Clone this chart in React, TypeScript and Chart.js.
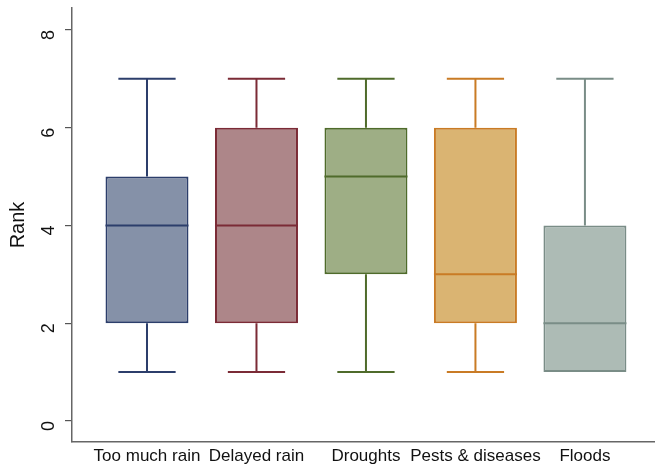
import React, { useEffect, useRef } from 'react';
import Chart from 'chart.js/auto';

const categories = ['Too much rain', 'Delayed rain', 'Droughts', 'Pests & diseases', 'Floods'];
const mins = [1, 1, 1, 1, 1];
const q1s = [2, 2, 3, 2, 1];
const medians = [4, 4, 5, 3, 2];
const q3s = [5, 6, 6, 6, 4];
const maxs = [7, 7, 7, 7, 7];
const yTicks = [0, 2, 4, 6, 8];

const fills = ['#8591a8', '#ad8689', '#9eae85', '#dab472', '#adbbb5'];
const strokes = ['#2c3e6b', '#7b2b36', '#4f6b2b', '#c97b25', '#7a8d87'];

// whiskers and medians drawn on top of the floating bars
const whiskerPlugin = {
  id: 'whiskers',
  afterDatasetsDraw(chart: any) {
    const { ctx } = chart;
    const y = chart.scales.y;
    const meta = chart.getDatasetMeta(0);
    meta.data.forEach((bar: any, i: number) => {
      const cx = bar.x;
      const half = bar.width / 2;
      const cap = half * 0.69;
      ctx.save();
      ctx.strokeStyle = strokes[i];
      ctx.lineWidth = 2;
      ctx.beginPath();
      // median
      ctx.moveTo(cx - half, y.getPixelForValue(medians[i]));
      ctx.lineTo(cx + half, y.getPixelForValue(medians[i]));
      // upper whisker
      if (maxs[i] > q3s[i]) {
        ctx.moveTo(cx, y.getPixelForValue(q3s[i]));
        ctx.lineTo(cx, y.getPixelForValue(maxs[i]));
        ctx.moveTo(cx - cap, y.getPixelForValue(maxs[i]));
        ctx.lineTo(cx + cap, y.getPixelForValue(maxs[i]));
      }
      // lower whisker
      if (mins[i] < q1s[i]) {
        ctx.moveTo(cx, y.getPixelForValue(q1s[i]));
        ctx.lineTo(cx, y.getPixelForValue(mins[i]));
        ctx.moveTo(cx - cap, y.getPixelForValue(mins[i]));
        ctx.lineTo(cx + cap, y.getPixelForValue(mins[i]));
      }
      ctx.stroke();
      ctx.restore();
    });
  },
};

const App: React.FC = () => {
  const chartRef = useRef<HTMLCanvasElement>(null);
  const chartInstance = useRef<Chart | null>(null);

  useEffect(() => {
    if (!chartRef.current) return;
    if (chartInstance.current) chartInstance.current.destroy();
    const ctx = chartRef.current.getContext('2d');
    if (!ctx) return;

    chartInstance.current = new Chart(ctx, {
      type: 'bar',
      data: {
        datasets: [
          {
            data: categories.map((_, i) => ({ x: i, y: [q1s[i], q3s[i]] })) as any,
            backgroundColor: fills,
            borderColor: strokes,
            borderWidth: 2,
            borderSkipped: false,
            barPercentage: 0.758,
            categoryPercentage: 1,
          },
        ],
      },
      options: {
        animation: false,
        responsive: true,
        maintainAspectRatio: false,
        layout: { padding: { top: 8, right: 0, left: 0, bottom: 0 } },
        plugins: {
          legend: { display: false },
          tooltip: { enabled: false },
        },
        scales: {
          x: {
            type: 'linear',
            offset: false,
            min: -0.685,
            max: 4.64,
            afterBuildTicks: (scale: any) => {
              scale.ticks = categories.map((_, i) => ({ value: i }));
            },
            afterFit: (scale: any) => {
              scale.height = 26;
              scale.paddingLeft = 0;
              scale.paddingRight = 0;
            },
            ticks: {
              callback: (v: any) => categories[v] ?? '',
              color: '#111',
              font: { family: 'Liberation Sans, Arial', size: 17 },
              padding: 4,
              maxRotation: 0,
              minRotation: 0,
              autoSkip: false,
            },
            grid: { display: false, drawTicks: false },
            border: { color: '#666', width: 1.5 },
          },
          y: {
            min: -0.43,
            max: 8.45,
            afterBuildTicks: (scale: any) => {
              scale.ticks = yTicks.map((v) => ({ value: v }));
            },
            afterFit: (scale: any) => {
              scale.width = 72;
              scale.paddingTop = 0;
              scale.paddingBottom = 0;
            },
            ticks: {
              color: '#111',
              font: { family: 'Liberation Sans, Arial', size: 18 },
              minRotation: 90,
              maxRotation: 90,
              padding: 16,
            },
            title: {
              display: true,
              text: 'Rank',
              color: '#111',
              font: { family: 'Liberation Sans, Arial', size: 20 },
              padding: { top: 6, bottom: 0 },
            },
            grid: {
              drawOnChartArea: false,
              drawTicks: true,
              tickLength: 7,
              color: '#555',
              lineWidth: 1.2,
            },
            border: { color: '#666', width: 1.5 },
          },
        },
      },
      plugins: [whiskerPlugin],
    });

    return () => {
      if (chartInstance.current) {
        chartInstance.current.destroy();
        chartInstance.current = null;
      }
    };
  }, []);

  return (
    <div style={{ position: 'fixed', left: 0, top: 0, width: 655, height: 468, background: '#fff' }}>
      <canvas ref={chartRef} />
    </div>
  );
};

export default App;
